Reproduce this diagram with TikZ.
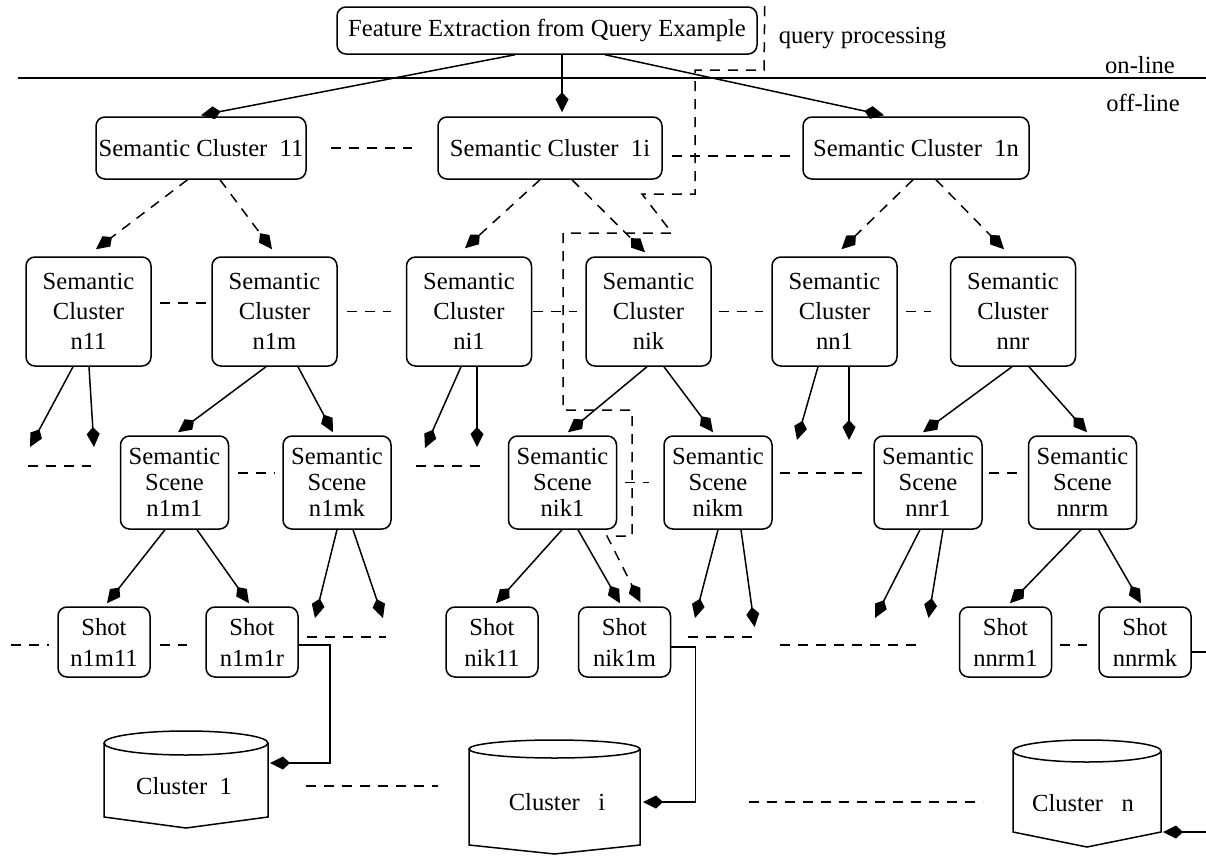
\documentclass[tikz,border=0pt]{standalone}
\usepackage{fontspec}
\setmainfont{Liberation Serif}
\usepackage{tikz}
\usetikzlibrary{arrows.meta, calc}

\begin{document}
\begin{tikzpicture}[x=0.5pt, y=-0.5pt, line width=0.75pt,
  every node/.style={inner sep=1pt, font=\fontsize{12.3}{15}\selectfont},
  box/.style={draw, rounded corners=4.5pt, align=center},
  clbox/.style={box, minimum height=31pt},
  subbox/.style={box, minimum width=62.5pt, minimum height=54.5pt},
  scbox/.style={box, minimum width=54pt, minimum height=46.5pt, font=\fontsize{12.3}{13}\selectfont},
  shotbox/.style={box, minimum width=46pt, minimum height=35pt, font=\fontsize{12.3}{15.5}\selectfont},
  arr/.style={-{Kite[length=10pt,width=6.5pt,inset=3.5pt]}},
  darr/.style={arr, dash pattern=on 5pt off 4pt},
  sepline/.style={dash pattern=on 5pt off 4pt}]
  \useasboundingbox (0,0) rectangle (1206,857);

  % query side
  \node[box, minimum width=210pt, minimum height=23.5pt] (top) at (547,30.5) {Feature Extraction from Query Example};
  \node[anchor=west, inner sep=0pt] (qp) at (778,38) {query processing};
  \draw (18,78) -- (1206,78);
  \node (on) at (1140,65) {on-line};
  \node (off) at (1143,103) {off-line};

  % semantic clusters, first level
  \node[clbox, minimum width=105pt] (c11) at (201,148) {Semantic Cluster\ \ 11};
  \node[clbox, minimum width=112pt] (c1i) at (550,148) {Semantic Cluster\ \ 1i};
  \node[clbox, minimum width=113pt] (c1n) at (916,148) {Semantic Cluster\ \ 1n};

  % second level
  \node[subbox] (n11) at (88.5,311.5) {Semantic\\Cluster\\n11};
  \node[subbox] (n1m) at (274.5,311.5) {Semantic\\Cluster\\n1m};
  \node[subbox] (ni1) at (469,311.5) {Semantic\\Cluster\\ni1};
  \node[subbox] (nik) at (648.5,311.5) {Semantic\\Cluster\\nik};
  \node[subbox] (nn1) at (834.5,311.5) {Semantic\\Cluster\\nn1};
  \node[subbox] (nnr) at (1013,311.5) {Semantic\\Cluster\\nnr};

  % scenes
  \node[scbox] (n1m1) at (174.5,482.5) {Semantic\\Scene\\n1m1};
  \node[scbox] (n1mk) at (337,482.5) {Semantic\\Scene\\n1mk};
  \node[scbox] (nik1) at (562.5,482.5) {Semantic\\Scene\\nik1};
  \node[scbox] (nikm) at (718,482.5) {Semantic\\Scene\\nikm};
  \node[scbox] (nnr1) at (928,482.5) {Semantic\\Scene\\nnr1};
  \node[scbox] (nnrm) at (1082.5,482.5) {Semantic\\Scene\\nnrm};

  % shots
  \node[shotbox] (n1m11) at (104,642) {Shot\\n1m11};
  \node[shotbox] (n1m1r) at (252,642) {Shot\\n1m1r};
  \node[shotbox] (nik11) at (492,642) {Shot\\nik11};
  \node[shotbox] (nik1m) at (624.5,642) {Shot\\nik1m};
  \node[shotbox] (nnrm1) at (1005.5,642) {Shot\\nnrm1};
  \node[shotbox] (nnrmk) at (1145,642) {Shot\\nnrmk};

  % open ends
  \coordinate (n11l) at (30,447);
  \coordinate (n11r) at (94,447);
  \coordinate (ni1l) at (425,448);
  \coordinate (ni1r) at (477,447);
  \coordinate (nn1l) at (797,440);
  \coordinate (nn1r) at (849,440);
  \coordinate (n1mkl) at (315,618);
  \coordinate (n1mkr) at (383,618);
  \coordinate (nikml) at (695,618);
  \coordinate (nikmr) at (754.6,627);
  \coordinate (nnr1l) at (875,618);
  \coordinate (nnr1r) at (928.5,618);
  \coordinate (in1) at (270,763);
  \coordinate (ini) at (643,802);
  \coordinate (inn) at (1163,832);
  \coordinate (outR) at (1206,652);
  \coordinate (inR) at (1206,832);

  % feature extraction to clusters
  \draw[arr] ([xshift=-16pt]top.south) -- ([yshift=0.5pt]c11.north);
  \draw[arr] ([xshift=7.5pt]top.south) -- ([xshift=6pt,yshift=2pt]c1i.north);
  \draw[arr] ([xshift=29pt]top.south) -- ([xshift=-16pt,yshift=0.5pt]c1n.north);

  \draw[darr] ([xshift=-6.75pt]c11.south) -- ([xshift=3.75pt,yshift=3.5pt]n11.north);
  \draw[darr] ([xshift=9.5pt]c11.south) -- ([xshift=-1.25pt,yshift=3.5pt]n1m.north);
  \draw[darr] ([xshift=-5pt]c1i.south) -- ([xshift=-2pt,yshift=4pt]ni1.north);
  \draw[darr] ([xshift=11pt]c1i.south) -- ([xshift=-1.75pt,yshift=2pt]nik.north);
  \draw[darr] ([xshift=-1.5pt]c1n.south) -- ([xshift=3.5pt,yshift=3.5pt]nn1.north);
  \draw[darr] ([xshift=10pt]c1n.south) -- ([xshift=-4.5pt,yshift=3.5pt]nnr.north);

  \draw[arr] ([xshift=-7.75pt]n11.south) -- (n11l);
  \draw[arr] ([xshift=0.25pt]n11.south) -- (n11r);
  \draw[arr] ([xshift=-4.25pt]n1m.south) -- ([xshift=1.75pt,yshift=1.5pt]n1m1.north);
  \draw[arr] ([xshift=11.75pt]n1m.south) -- ([xshift=-2pt,yshift=1.5pt]n1mk.north);
  \draw[arr] ([xshift=-4pt]ni1.south) -- (ni1l);
  \draw[arr] ([xshift=4pt]ni1.south) -- (ni1r);
  \draw[arr] ([xshift=-0.75pt]nik.south) -- ([xshift=2.75pt,yshift=1.5pt]nik1.north);
  \draw[arr] ([xshift=7.75pt]nik.south) -- ([xshift=-2.5pt,yshift=1.5pt]nikm.north);
  \draw[arr] ([xshift=-8.25pt]nn1.south) -- (nn1l);
  \draw[arr] ([xshift=7.25pt]nn1.south) -- (nn1r);
  \draw[arr] ([xshift=-0.5pt]nnr.south) -- ([xshift=-2.5pt,yshift=1.5pt]nnr1.north);
  \draw[arr] ([xshift=8pt]nnr.south) -- ([xshift=2.25pt,yshift=1.5pt]nnrm.north);

  \draw[arr] ([xshift=-4.75pt]n1m1.south) -- ([xshift=1.5pt,yshift=1.5pt]n1m11.north);
  \draw[arr] ([xshift=11.25pt]n1m1.south) -- ([xshift=-1.5pt,yshift=1.5pt]n1m1r.north);
  \draw[arr] (n1mk.south) -- (n1mkl);
  \draw[arr] ([xshift=8pt]n1mk.south) -- (n1mkr);
  \draw[arr] ([xshift=-0.25pt]nik1.south) -- ([xshift=2pt,yshift=1.5pt]nik11.north);
  \draw[arr] ([xshift=7.75pt]nik1.south) -- ([xshift=-2.25pt,yshift=1.5pt]nik1m.north);
  \draw[arr] (nikm.south) -- (nikml);
  \draw[arr] ([xshift=11.5pt]nikm.south) -- (nikmr);
  \draw[arr] ([xshift=-4pt]nnr1.south) -- (nnr1l);
  \draw[arr] ([xshift=7.5pt]nnr1.south) -- (nnr1r);
  \draw[arr] ([xshift=-0.75pt]nnrm.south) -- ([xshift=2.25pt,yshift=1.5pt]nnrm1.north);
  \draw[arr] ([xshift=8pt]nnrm.south) -- ([xshift=-2pt,yshift=1.5pt]nnrmk.north);

  % query processing route
  \draw[darr] ($(top.north east)+(7,0)$) -- (764,70) -- (695,70) -- (695,194) -- (642,194)
    -- (672,233) -- (563,233) -- (563,410) -- (632,410) -- (632,536) -- (607,536)
    -- ([xshift=8pt,yshift=2pt]nik1m.north);

  % dashes between siblings
  \draw[sepline] ($(c11.east)+(24,0)$) -- ($(c1i.west)+(-25,0)$);
  \draw[sepline] ($(c1i.east)+(9,8)$) -- ($(c1n.west)+(-10,8)$);
  \draw[sepline] ($(n11.east)+(8,-8.5)$) -- ($(n1m.west)+(-5,-8.5)$);
  \draw[sepline] ($(n1m.east)+(9,0)$) -- ($(ni1.west)+(-15,0)$);
  \draw[sepline] ($(ni1.east)+(1,0)$) -- ($(nik.west)+(-8,0)$);
  \draw[sepline] ($(nik.east)+(7,0)$) -- ($(nn1.west)+(-8,0)$);
  \draw[sepline] ($(nn1.east)+(8,0)$) -- ($(nnr.west)+(-19,0)$);
  \draw[sepline] ($(n1m1.west)+(-91.5,-16.5)$) -- ($(n1m1.west)+(-28.5,-16.5)$);
  \draw[sepline] ($(n1m1.east)+(8.5,-9.5)$) -- ($(n1mk.west)+(-7,-9.5)$);
  \draw[sepline] ($(n1mk.east)+(24,-16.5)$) -- ($(nik1.west)+(-28,-16.5)$);
  \draw[sepline] ($(nik1.east)+(8,0)$) -- ($(nikm.west)+(-14,0)$);
  \draw[sepline] ($(nikm.east)+(7,-9.5)$) -- ($(nnr1.west)+(-7,-9.5)$);
  \draw[sepline] ($(nnr1.east)+(6,-9.5)$) -- ($(nnrm.west)+(-9,-9.5)$);
  \draw[sepline] ($(n1m11.west)+(-46.5,3)$) -- ($(n1m11.west)+(-8,3)$);
  \draw[sepline] ($(n1m11.east)+(9,3)$) -- ($(n1m1r.west)+(-18,3)$);
  \draw[sepline] ($(n1m1r.east)+(8,-5)$) -- ($(n1m1r.east)+(87,-5)$);
  \draw[sepline] ($(nik1m.east)+(17,-5)$) -- ($(nik1m.east)+(82,-5)$);
  \draw[sepline] ($(nnrm1.west)+(-179,3)$) -- ($(nnrm1.west)+(-36,3)$);
  \draw[sepline] ($(nnrm1.east)+(8,3)$) -- ($(nnrmk.west)+(-11,3)$);

  % cluster stores
  \draw (104,743) -- (104,817) -- (186,828) -- (268,817) -- (268,743);
  \draw (186,743) ellipse [x radius=82, y radius=12];
  \draw (469,749) -- (469,845) -- (554.5,854) -- (640,845) -- (640,749);
  \draw (554.5,749) ellipse [x radius=85.5, y radius=9];
  \draw (1013,751) -- (1013,832) -- (1087,847) -- (1161,832) -- (1161,751);
  \draw (1087,751) ellipse [x radius=74, y radius=11];
  \node (db1) at (184,786) {Cluster\ \ 1};
  \node (dbi) at (557,802) {Cluster\ \ \ i};
  \node (dbn) at (1083,803) {Cluster\ \ \ n};

  \draw[arr] ([yshift=-1.5pt]n1m1r.east) -- ++(31,0) |- (in1);
  \draw[arr] ([yshift=-2.5pt]nik1m.east) -- ++(24,0) |- (ini);
  \draw ([yshift=-5pt]nnrmk.east) -- (outR);
  \draw[arr] (inR) -- (inn);
  \draw[sepline] ($(db1)+(122,0)$) -- ($(dbi)+(-119,-16)$);
  \draw[sepline] ($(dbi)+(192,0)$) -- ($(dbn)+(-100,-1)$);
\end{tikzpicture}
\end{document}
